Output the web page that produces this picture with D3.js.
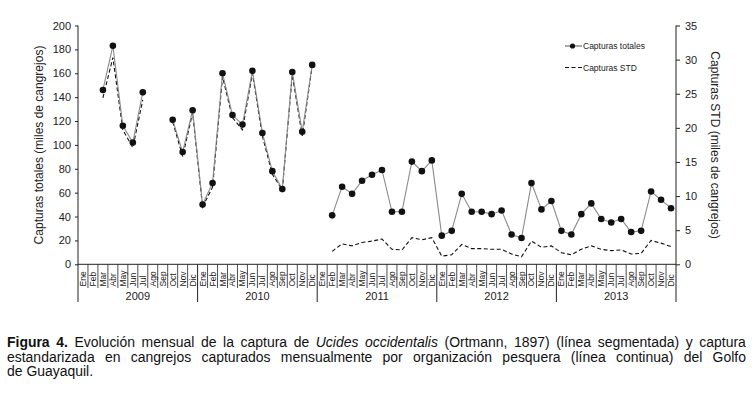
<!DOCTYPE html>
<html>
<head>
<meta charset="utf-8">
<script src="https://cdn.jsdelivr.net/npm/d3@7"></script>
<style>
  body { margin: 0; background: #fff; }
  svg { position: absolute; left: 0; top: 0; }
  #caption {
    position: absolute; left: 7px; top: 335px; width: 821px;
    transform: scaleX(0.9); transform-origin: 0 0;
    font-family: "Liberation Sans", Arial, sans-serif;
    font-size: 15.5px; line-height: 14.5px; color: #111;
  }
  #caption .j { text-align: justify; text-align-last: justify; white-space: nowrap; }
</style>
</head>
<body>
<svg id="chart" width="752" height="395"></svg>
<div id="caption">
  <div class="j"><b>Figura 4.</b> Evolución mensual de la captura de <i>Ucides occidentalis</i> (Ortmann, 1897) (línea segmentada) y captura</div>
  <div class="j">estandarizada en cangrejos capturados mensualmente por organización pesquera (línea continua) del Golfo</div>
  <div>de Guayaquil.</div>
</div>
<script>
var months = ['Ene', 'Feb', 'Mar', 'Abr', 'May', 'Jun', 'Jul', 'Ago', 'Sep', 'Oct', 'Nov', 'Dic'];
var years = ['2009', '2010', '2011', '2012', '2013'];

// miles de cangrejos, eje izquierdo
var capturasTotales = [
  null, null, 146, 183, 116, 102, 144, null, null, 121, 94, 129,
  50, 68, 160, 125, 117, 162, 110, 78, 63, 161, 111, 167,
  null, 41, 65, 59, 70, 75, 79, 44, 44, 86, 78, 87,
  24, 28, 59, 44, 44, 42, 45, 25, 22, 68, 46, 53,
  28, 25, 42, 51, 38, 35, 38, 27, 28, 61, 54, 47
];

// eje derecho
var capturasSTD = [
  null, null, 24.4, 30.3, 19.7, 17.1, 24.1, null, null, 20.9, 15.8, 22.2,
  8.4, 11.3, 27.5, 21.5, 19.7, 28.0, 18.8, 13.2, 10.9, 27.8, 18.8, 29.1,
  null, 1.9, 3.0, 2.7, 3.2, 3.4, 3.7, 2.2, 2.1, 3.9, 3.6, 3.9,
  1.2, 1.4, 2.9, 2.3, 2.3, 2.2, 2.2, 1.5, 1.1, 3.4, 2.5, 2.7,
  1.7, 1.4, 2.2, 2.7, 2.2, 2.0, 2.1, 1.5, 1.6, 3.5, 3.1, 2.6
];

var leftTicks = [0, 20, 40, 60, 80, 100, 120, 140, 160, 180, 200];
var rightTicks = [0, 5, 10, 15, 20, 25, 30, 35];

var svg = d3.select('#chart');
var font = 'Liberation Sans, Arial, sans-serif';

var x0 = 78, x1 = 676, yTop = 25.5, yBase = 264.3;

var idx = d3.range(years.length * months.length);
var xScale = d3.scaleBand().domain(idx).range([x0, x1]);
var cx = function(i) { return xScale(i) + xScale.bandwidth() / 2; };

var yLeft = d3.scaleLinear().domain([0, 200]).range([yBase, yTop]);
var yRight = d3.scaleLinear().domain([0, 35]).range([yBase, yTop]);

// ejes Y
var gl = svg.append('g')
  .attr('transform', 'translate(' + x0 + ',0)')
  .call(d3.axisLeft(yLeft).tickValues(leftTicks).tickSize(3).tickSizeOuter(0).tickPadding(4));
var gr = svg.append('g')
  .attr('transform', 'translate(' + x1 + ',0)')
  .call(d3.axisRight(yRight).tickValues(rightTicks).tickSize(4).tickSizeOuter(0).tickPadding(5));

[gl, gr].forEach(function(g) {
  g.select('.domain').remove();
  g.selectAll('line').attr('stroke', '#222');
  g.selectAll('text').attr('font-family', font).attr('font-size', 11).attr('fill', '#222');
});

// lineas verticales de ejes (se extienden bajo el eje X)
svg.append('line').attr('x1', x0).attr('x2', x0).attr('y1', yTop).attr('y2', 302).attr('stroke', '#222');
svg.append('line').attr('x1', x1).attr('x2', x1).attr('y1', yTop).attr('y2', 302).attr('stroke', '#222');
svg.append('line').attr('x1', x0).attr('x2', x1).attr('y1', yBase).attr('y2', yBase).attr('stroke', '#222');

// eje X: meses y años
var xg = svg.append('g');
idx.forEach(function(i) {
  if (i > 0) {
    var isYear = i % 12 === 0;
    xg.append('line')
      .attr('x1', xScale(i)).attr('x2', xScale(i))
      .attr('y1', yBase).attr('y2', isYear ? 302 : 288)
      .attr('stroke', '#222').attr('stroke-width', isYear ? 1 : 0.8);
  }
  xg.append('text')
    .attr('transform', 'translate(' + (cx(i) + 3) + ',286.5) rotate(-90)')
    .attr('font-family', font).attr('font-size', 8.5).attr('fill', '#222')
    .text(months[i % 12]);
});
years.forEach(function(y, k) {
  xg.append('text')
    .attr('x', (xScale(k * 12) + xScale(k * 12 + 11) + xScale.bandwidth()) / 2)
    .attr('y', 300)
    .attr('text-anchor', 'middle')
    .attr('font-family', font).attr('font-size', 11).attr('fill', '#222')
    .text(y);
});

// titulos de ejes
svg.append('text')
  .attr('transform', 'translate(43,145) rotate(-90)')
  .attr('text-anchor', 'middle')
  .attr('font-family', font).attr('font-size', 12).attr('fill', '#222')
  .text('Capturas totales (miles de cangrejos)');
svg.append('text')
  .attr('transform', 'translate(711,145) rotate(90)')
  .attr('text-anchor', 'middle')
  .attr('font-family', font).attr('font-size', 12).attr('fill', '#222')
  .text('Capturas STD (miles de cangrejos)');

// series
var lineTot = d3.line()
  .defined(function(d) { return d != null; })
  .x(function(d, i) { return cx(i); })
  .y(function(d) { return yLeft(d); });
var lineStd = d3.line()
  .defined(function(d) { return d != null; })
  .x(function(d, i) { return cx(i); })
  .y(function(d) { return yRight(d); });

svg.append('path')
  .attr('d', lineStd(capturasSTD))
  .attr('fill', 'none').attr('stroke', '#111').attr('stroke-width', 1.1)
  .attr('stroke-dasharray', '4,2.5');

svg.append('path')
  .attr('d', lineTot(capturasTotales))
  .attr('fill', 'none').attr('stroke', '#8a8a8a').attr('stroke-width', 1.1);

svg.append('g').selectAll('circle')
  .data(capturasTotales.map(function(v, i) { return { v: v, i: i }; })
    .filter(function(d) { return d.v != null; }))
  .join('circle')
  .attr('cx', function(d) { return cx(d.i); })
  .attr('cy', function(d) { return yLeft(d.v); })
  .attr('r', 3.3)
  .attr('fill', '#111');

// leyenda
var lg = svg.append('g').attr('transform', 'translate(565,0)');
lg.append('line').attr('x1', 0).attr('x2', 17).attr('y1', 46).attr('y2', 46)
  .attr('stroke', '#555').attr('stroke-width', 1);
lg.append('circle').attr('cx', 7.5).attr('cy', 46).attr('r', 2.6).attr('fill', '#111');
lg.append('text').attr('x', 18).attr('y', 49)
  .attr('font-family', font).attr('font-size', 8.5).attr('fill', '#222')
  .text('Capturas totales');
lg.append('line').attr('x1', 0).attr('x2', 17).attr('y1', 67.5).attr('y2', 67.5)
  .attr('stroke', '#111').attr('stroke-width', 1).attr('stroke-dasharray', '4,2.5');
lg.append('text').attr('x', 18).attr('y', 70.5)
  .attr('font-family', font).attr('font-size', 8.5).attr('fill', '#222')
  .text('Capturas STD');
</script>
</body>
</html>
